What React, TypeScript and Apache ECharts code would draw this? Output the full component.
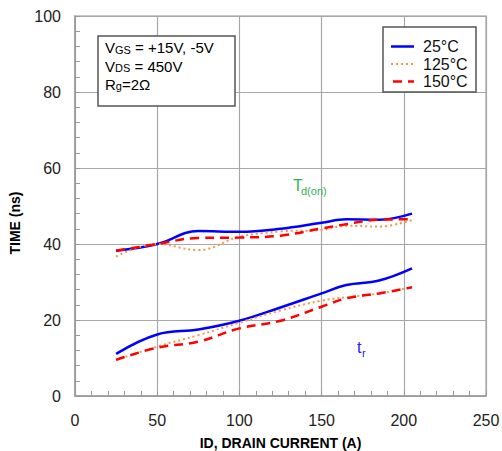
import React, { useEffect, useRef } from "react";
import * as echarts from "echarts";

const currents = [25, 50, 75, 100, 125, 150, 165, 185, 205];
const td25 = [38.2, 40.0, 43.4, 43.2, 44.0, 45.6, 46.5, 46.4, 48.0];
const td125 = [36.7, 40.0, 38.4, 41.9, 43.3, 43.7, 44.8, 44.6, 46.3];
const td150 = [38.2, 40.0, 41.6, 41.7, 42.2, 44.1, 45.2, 46.4, 46.5];
const tr25 = [11.1, 16.2, 17.5, 19.8, 23.3, 27.0, 29.2, 30.4, 33.6];
const tr125 = [9.5, 13.0, 16.0, 19.3, 22.5, 25.1, 26.0, 27.0, 28.6];
const tr150 = [9.5, 12.7, 14.3, 17.8, 19.8, 23.5, 25.7, 27.0, 28.6];
const legendNames = ["25°C", "125°C", "150°C"];

const FONT = "Liberation Sans, Arial, sans-serif";

function pairs(ys: number[]) {
  return currents.map((x, i) => [x, ys[i]]);
}

export default function App() {
  const ref = useRef<HTMLDivElement>(null);
  useEffect(() => {
    if (!ref.current) return;
    const chart = echarts.init(ref.current, null, { renderer: "svg" });
    const blue = { color: "#0000ff", width: 2.5, type: "solid" as any };
    const orange = { color: "#f79646", width: 2, type: [2, 3] as any };
    const red = { color: "#ff0000", width: 2.5, type: [9, 6] as any };
    const styles = [blue, orange, red];
    const mk = (name: string, data: number[], ls: any) => ({
      name,
      type: "line",
      xAxisIndex: 0,
      yAxisIndex: 0,
      data: pairs(data),
      smooth: 0.4,
      symbol: "none",
      showSymbol: false,
      lineStyle: ls,
      itemStyle: { color: ls.color },
      z: 3,
    });
    const tickOnly = {
      axisLine: { show: false },
      axisLabel: { show: false },
      splitLine: { show: false },
      axisTick: { show: true, inside: true, length: 5, lineStyle: { color: "#999", width: 1 } },
    };
    const legendRows = [46.5, 64, 81.5];
    const legendGraphics: any[] = [
      {
        type: "rect",
        shape: { x: 383, y: 27, width: 93, height: 65 },
        style: { fill: "#fff", stroke: "#555", lineWidth: 1.5 },
        z: 10,
      },
    ];
    legendNames.forEach((n, i) => {
      const ls = styles[i];
      legendGraphics.push({
        type: "line",
        z: 11,
        shape: { x1: i === 2 ? 393 : 391, y1: legendRows[i], x2: 414, y2: legendRows[i] },
        style: {
          stroke: ls.color,
          lineWidth: ls.width,
          lineDash: Array.isArray(ls.type) ? ls.type : null,
        },
      });
      legendGraphics.push({
        type: "text",
        z: 11,
        x: 423,
        y: legendRows[i],
        style: {
          text: n,
          font: `16px ${FONT}`,
          fill: "#111",
          verticalAlign: "middle",
        },
      });
    });
    chart.setOption({
      animation: false,
      grid: {
        left: 75,
        top: 16,
        width: 411,
        height: 380,
        outerBoundsMode: "none",
        containLabel: false,
        show: true,
        borderColor: "#b8b8b8",
        borderWidth: 1.5,
        backgroundColor: "transparent",
      },
      xAxis: [
        {
          type: "value",
          min: 0,
          max: 250,
          interval: 50,
          name: "ID, DRAIN CURRENT (A)",
          nameLocation: "middle",
          nameGap: 40,
          nameTextStyle: { fontFamily: FONT, fontSize: 14, fontWeight: "bold", color: "#000" },
          axisLine: { show: true, lineStyle: { color: "#999", width: 1.5 } },
          axisTick: { show: false },
          axisLabel: { fontFamily: FONT, fontSize: 16, color: "#222", margin: 16 },
          splitLine: { show: true, lineStyle: { color: "#a8a8a8", width: 1.2 } },
        },
        { type: "value", min: 0, max: 250, interval: 10, position: "bottom", ...tickOnly },
      ],
      yAxis: [
        {
          type: "value",
          min: 0,
          max: 100,
          interval: 20,
          axisLine: { show: true, lineStyle: { color: "#999", width: 1.5 } },
          axisTick: { show: false },
          axisLabel: { fontFamily: FONT, fontSize: 16, color: "#222", margin: 14 },
          splitLine: { show: true, lineStyle: { color: "#a8a8a8", width: 1.2 } },
        },
        { type: "value", min: 0, max: 100, interval: 4, position: "left", ...tickOnly },
      ],
      series: [
        mk("25°C", td25, blue),
        mk("125°C", td125, orange),
        mk("150°C", td150, red),
        mk("25°C", tr25, blue),
        mk("125°C", tr125, orange),
        mk("150°C", tr150, red),
      ],
      graphic: [
        {
          type: "text",
          x: 15,
          y: 223,
          rotation: Math.PI / 2,
          style: {
            text: "TIME (ns)",
            font: `bold 14px ${FONT}`,
            fill: "#000",
            align: "center",
            verticalAlign: "middle",
          },
        },
        {
          type: "rect",
          shape: { x: 98, y: 36, width: 137, height: 70 },
          style: { fill: "#fff", stroke: "#555", lineWidth: 1.5 },
          z: 10,
        },
        {
          type: "text",
          x: 105,
          y: 55,
          z: 11,
          style: {
            text: "{n|V}{s|GS}{n| = +15V, -5V}",
            fill: "#000",
            verticalAlign: "bottom",
            rich: {
              n: { fontFamily: FONT, fontSize: 15, verticalAlign: "bottom", lineHeight: 18 },
              s: { fontFamily: FONT, fontSize: 11, verticalAlign: "bottom", lineHeight: 18 },
            },
          },
        },
        {
          type: "text",
          x: 105,
          y: 73.5,
          z: 11,
          style: {
            text: "{n|V}{s|DS}{n| = 450V}",
            fill: "#000",
            verticalAlign: "bottom",
            rich: {
              n: { fontFamily: FONT, fontSize: 15, verticalAlign: "bottom", lineHeight: 18 },
              s: { fontFamily: FONT, fontSize: 11, verticalAlign: "bottom", lineHeight: 18 },
            },
          },
        },
        {
          type: "text",
          x: 105,
          y: 91.5,
          z: 11,
          style: {
            text: "{n|R}{s|g}{n|=2Ω}",
            fill: "#000",
            verticalAlign: "bottom",
            rich: {
              n: { fontFamily: FONT, fontSize: 15, verticalAlign: "bottom", lineHeight: 18 },
              s: { fontFamily: FONT, fontSize: 11, verticalAlign: "bottom", lineHeight: 18 },
            },
          },
        },
        {
          type: "text",
          x: 293,
          y: 193.5,
          z: 11,
          style: { text: "T", font: `16px ${FONT}`, fill: "#2eb350", verticalAlign: "bottom" },
        },
        {
          type: "text",
          x: 301,
          y: 196.5,
          z: 11,
          style: { text: "d(on)", font: `11px ${FONT}`, fill: "#2eb350", verticalAlign: "bottom" },
        },
        {
          type: "text",
          x: 357,
          y: 355.5,
          z: 11,
          style: { text: "t", font: `16px ${FONT}`, fill: "#2020ff", verticalAlign: "bottom" },
        },
        {
          type: "text",
          x: 362,
          y: 358.5,
          z: 11,
          style: { text: "r", font: `11px ${FONT}`, fill: "#2020ff", verticalAlign: "bottom" },
        },
        ...legendGraphics,
      ],
    });
    return () => chart.dispose();
  }, []);
  return (
    <div
      ref={ref}
      style={{ position: "fixed", left: 0, top: 0, width: 502, height: 451, background: "#fff" }}
    />
  );
}
